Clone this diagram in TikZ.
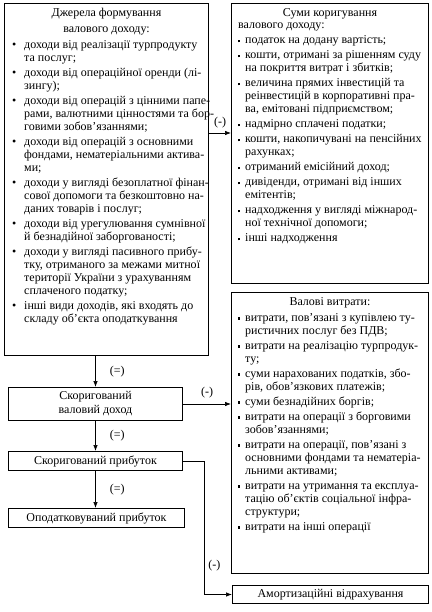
\documentclass[tikz,border=0pt]{standalone}
\usepackage{fontspec}
\setmainfont{Liberation Serif}
\usetikzlibrary{arrows.meta, positioning}

\newcommand\bul{\makebox[12pt][l]{\textbullet}}
\newcommand\sqb{\makebox[7pt][l]{\raisebox{0.25ex}{\rule{2.2pt}{2.6pt}}}}
\newcommand\indA{\hspace*{12pt}}
\newcommand\indB{\hspace*{7pt}}

\begin{document}
\begin{tikzpicture}[x=1pt, y=-1pt,
    box/.style = {draw, line width=1pt, rectangle, anchor=north west,
                  inner sep=0pt, align=center, font=\fontsize{12}{14}\selectfont},
    lst/.style = {anchor=north west, align=left, inner sep=0pt,
                  font=\fontsize{12}{13}\selectfont},
    ttl/.style = {align=center, inner sep=0pt, font=\fontsize{12}{16}\selectfont},
    arr/.style = {-{Latex[length=6pt, width=4.5pt]}, line width=0.7pt},
    lbl/.style = {font=\fontsize{12}{12}\selectfont, inner sep=1pt}
  ]
  \useasboundingbox (0,0) rectangle (431,612);

  % income sources
  \node[box, minimum width=204pt, minimum height=352pt] (src) at (4,3) {};
  \node[ttl, below=5pt of src.north] (srcttl) {Джерела формування\\валового доходу:};
  \node[lst] (srclst) at ([xshift=8pt, yshift=-5pt]srcttl.south -| src.west)
    {\bul доходи від реалізації турпродукту\\
     \indA та послуг;\\[2pt]
     \bul доходи від операційної оренди (лі-\\
     \indA зингу);\\[2pt]
     \bul доходи від операцій з цінними папе-\\
     \indA рами, валютними цінностями та бор-\\
     \indA говими зобов’язаннями;\\[2pt]
     \bul доходи від операцій з основними\\
     \indA фондами, нематеріальними актива-\\
     \indA ми;\\[2pt]
     \bul доходи у вигляді безоплатної фінан-\\
     \indA сової допомоги та безкоштовно на-\\
     \indA даних товарів і послуг;\\[2pt]
     \bul доходи від урегулювання сумнівної\\
     \indA й безнадійної заборгованості;\\[2pt]
     \bul доходи у вигляді пасивного прибу-\\
     \indA тку, отриманого за межами митної\\
     \indA території України з урахуванням\\
     \indA сплаченого податку;\\[2pt]
     \bul інші види доходів, які входять до\\
     \indA складу об’єкта оподаткування};

  % adjustments
  \node[box, minimum width=197pt, minimum height=280pt] (adj) at (231,3) {};
  \node[ttl, below=5pt of adj.north] (adjttl) {Суми коригування};
  \node[lst] (adjlst) at ([xshift=7pt, yshift=-4pt]adjttl.south -| adj.west)
    {валового доходу:\\[2pt]
     \sqb податок на додану вартість;\\[2pt]
     \sqb кошти, отримані за рішенням суду\\
     \indB на покриття витрат і збитків;\\[2pt]
     \sqb величина прямих інвестицій та\\
     \indB реінвестицій в корпоративні пра-\\
     \indB ва, емітовані підприємством;\\[2pt]
     \sqb надмірно сплачені податки;\\[2pt]
     \sqb кошти, накопичувані на пенсійних\\
     \indB рахунках;\\[2pt]
     \sqb отриманий емісійний доход;\\[2pt]
     \sqb дивіденди, отримані від інших\\
     \indB емітентів;\\[2pt]
     \sqb надходження у вигляді міжнарод-\\
     \indB ної технічної допомоги;\\[2pt]
     \sqb інші надходження};

  % gross costs
  \node[box, minimum width=197pt, minimum height=281pt] (cost) at (231,292) {};
  \node[ttl, below=5pt of cost.north] (costttl) {Валові витрати:};
  \node[lst] (costlst) at ([xshift=7pt, yshift=-5pt]costttl.south -| cost.west)
    {\sqb витрати, пов’язані з купівлею ту-\\
     \indB ристичних послуг без ПДВ;\\[2pt]
     \sqb витрати на реалізацію турпродук-\\
     \indB ту;\\[2pt]
     \sqb суми нарахованих податків, збо-\\
     \indB рів, обов’язкових платежів;\\[2pt]
     \sqb суми безнадійних боргів;\\[2pt]
     \sqb витрати на операції з борговими\\
     \indB зобов’язаннями;\\[2pt]
     \sqb витрати на операції, пов’язані з\\
     \indB основними фондами та нематеріа-\\
     \indB льними активами;\\[2pt]
     \sqb витрати на утримання та експлуа-\\
     \indB тацію об’єктів соціальної інфра-\\
     \indB структури;\\[2pt]
     \sqb витрати на інші операції};

  \node[box, minimum width=174pt, minimum height=33pt] (adjinc)  at (8,387)   {Скоригований\\валовий доход};
  \node[box, minimum width=174pt, minimum height=19pt] (adjprof) at (8,451)   {Скоригований прибуток};
  \node[box, minimum width=176pt, minimum height=19pt] (taxprof) at (8,508)   {Оподатковуваний прибуток};
  \node[box, minimum width=196pt, minimum height=18pt] (amort)   at (232,585) {Амортизаційні відрахування};

  \draw[arr] (adjinc.north |- src.south) -- node[lbl, right=13pt]{(=)} (adjinc.north);
  \draw[arr] (adjinc.south) -- node[lbl, right=13pt]{(=)} (adjprof.north);
  \draw[arr] (adjprof.south) -- node[lbl, right=13pt]{(=)} (adjprof.south |- taxprof.north);

  \coordinate (a1) at (0,133);
  \coordinate (turn) at (204,0);
  \draw[arr] (src.east |- a1) -- node[lbl, above=4pt]{(-)} (adj.west |- a1);
  \draw[arr] (adjinc.east) -- node[lbl, above=5pt]{(-)} (cost.west |- adjinc.east);
  \draw[arr] (adjprof.east) -| node[lbl, pos=0.89, right=3pt]{(-)} (turn |- amort.west)
             -- (amort.west);
\end{tikzpicture}
\end{document}
